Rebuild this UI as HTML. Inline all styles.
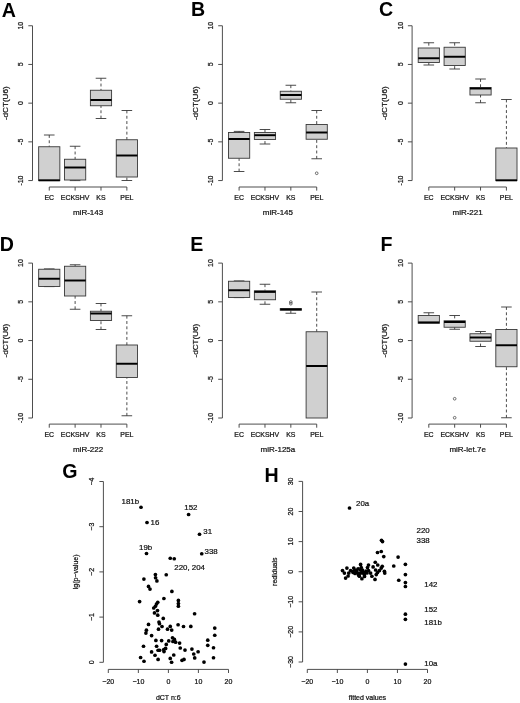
<!DOCTYPE html>
<html lang="en">
<head>
<meta charset="utf-8">
<title>Figure</title>
<style>
html,body{margin:0;padding:0;background:#fff;}
body{width:520px;height:703px;overflow:hidden;}
svg{display:block;font-family:'Liberation Sans', Arial, Helvetica, sans-serif;}
</style>
</head>
<body>
<svg width="520" height="703" viewBox="0 0 520 703">
<rect width="520" height="703" fill="#fff"/>
<line x1="32.50" y1="25.75" x2="32.50" y2="180.55" stroke="#454545" stroke-width="0.95"/>
<line x1="28.30" y1="25.75" x2="32.50" y2="25.75" stroke="#454545" stroke-width="0.95"/>
<text transform="translate(23.20 25.75) rotate(-90)" font-size="6.95" text-anchor="middle" fill="#111" stroke="#111" stroke-width="0.22">10</text>
<line x1="28.30" y1="64.45" x2="32.50" y2="64.45" stroke="#454545" stroke-width="0.95"/>
<text transform="translate(23.20 64.45) rotate(-90)" font-size="6.95" text-anchor="middle" fill="#111" stroke="#111" stroke-width="0.22">5</text>
<line x1="28.30" y1="103.15" x2="32.50" y2="103.15" stroke="#454545" stroke-width="0.95"/>
<text transform="translate(23.20 103.15) rotate(-90)" font-size="6.95" text-anchor="middle" fill="#111" stroke="#111" stroke-width="0.22">0</text>
<line x1="28.30" y1="141.85" x2="32.50" y2="141.85" stroke="#454545" stroke-width="0.95"/>
<text transform="translate(23.20 141.85) rotate(-90)" font-size="6.95" text-anchor="middle" fill="#111" stroke="#111" stroke-width="0.22">-5</text>
<line x1="28.30" y1="180.55" x2="32.50" y2="180.55" stroke="#454545" stroke-width="0.95"/>
<text transform="translate(23.20 180.55) rotate(-90)" font-size="6.95" text-anchor="middle" fill="#111" stroke="#111" stroke-width="0.22">-10</text>
<text transform="translate(7.80 103.25) rotate(-90)" font-size="8.1" text-anchor="middle" fill="#111" stroke="#111" stroke-width="0.22">-dCT(U6)</text>
<line x1="49.25" y1="187.00" x2="126.86" y2="187.00" stroke="#454545" stroke-width="0.95"/>
<line x1="49.25" y1="187.00" x2="49.25" y2="190.60" stroke="#454545" stroke-width="0.95"/>
<text x="49.25" y="200.30" font-size="6.95" text-anchor="middle" fill="#111" stroke="#111" stroke-width="0.22">EC</text>
<line x1="75.12" y1="187.00" x2="75.12" y2="190.60" stroke="#454545" stroke-width="0.95"/>
<text x="75.12" y="200.30" font-size="6.95" text-anchor="middle" fill="#111" stroke="#111" stroke-width="0.22">ECKSHV</text>
<line x1="100.99" y1="187.00" x2="100.99" y2="190.60" stroke="#454545" stroke-width="0.95"/>
<text x="100.99" y="200.30" font-size="6.95" text-anchor="middle" fill="#111" stroke="#111" stroke-width="0.22">KS</text>
<line x1="126.86" y1="187.00" x2="126.86" y2="190.60" stroke="#454545" stroke-width="0.95"/>
<text x="126.86" y="200.30" font-size="6.95" text-anchor="middle" fill="#111" stroke="#111" stroke-width="0.22">PEL</text>
<text x="88.06" y="215.10" font-size="8.0" text-anchor="middle" fill="#111" stroke="#111" stroke-width="0.22">miR-143</text>
<line x1="49.25" y1="135.00" x2="49.25" y2="146.75" stroke="#383838" stroke-width="0.9" stroke-dasharray="2.9 2.4"/>
<line x1="43.95" y1="135.00" x2="54.55" y2="135.00" stroke="#383838" stroke-width="0.9"/>
<rect x="38.65" y="146.75" width="21.20" height="33.85" fill="#d0d0d0" stroke="#383838" stroke-width="0.9"/>
<line x1="38.65" y1="180.30" x2="59.85" y2="180.30" stroke="#000" stroke-width="1.95"/>
<line x1="75.12" y1="146.25" x2="75.12" y2="159.25" stroke="#383838" stroke-width="0.9" stroke-dasharray="2.9 2.4"/>
<line x1="69.82" y1="146.25" x2="80.42" y2="146.25" stroke="#383838" stroke-width="0.9"/>
<line x1="75.12" y1="180.60" x2="75.12" y2="180.00" stroke="#383838" stroke-width="0.9" stroke-dasharray="2.9 2.4"/>
<line x1="69.82" y1="180.60" x2="80.42" y2="180.60" stroke="#383838" stroke-width="0.9"/>
<rect x="64.52" y="159.25" width="21.20" height="20.75" fill="#d0d0d0" stroke="#383838" stroke-width="0.9"/>
<line x1="64.52" y1="167.50" x2="85.72" y2="167.50" stroke="#000" stroke-width="1.95"/>
<line x1="100.99" y1="78.25" x2="100.99" y2="90.25" stroke="#383838" stroke-width="0.9" stroke-dasharray="2.9 2.4"/>
<line x1="95.69" y1="78.25" x2="106.29" y2="78.25" stroke="#383838" stroke-width="0.9"/>
<line x1="100.99" y1="118.50" x2="100.99" y2="105.75" stroke="#383838" stroke-width="0.9" stroke-dasharray="2.9 2.4"/>
<line x1="95.69" y1="118.50" x2="106.29" y2="118.50" stroke="#383838" stroke-width="0.9"/>
<rect x="90.39" y="90.25" width="21.20" height="15.50" fill="#d0d0d0" stroke="#383838" stroke-width="0.9"/>
<line x1="90.39" y1="100.00" x2="111.59" y2="100.00" stroke="#000" stroke-width="1.95"/>
<line x1="126.86" y1="110.50" x2="126.86" y2="139.75" stroke="#383838" stroke-width="0.9" stroke-dasharray="2.9 2.4"/>
<line x1="121.56" y1="110.50" x2="132.16" y2="110.50" stroke="#383838" stroke-width="0.9"/>
<line x1="126.86" y1="180.50" x2="126.86" y2="177.00" stroke="#383838" stroke-width="0.9" stroke-dasharray="2.9 2.4"/>
<line x1="121.56" y1="180.50" x2="132.16" y2="180.50" stroke="#383838" stroke-width="0.9"/>
<rect x="116.26" y="139.75" width="21.20" height="37.25" fill="#d0d0d0" stroke="#383838" stroke-width="0.9"/>
<line x1="116.26" y1="155.50" x2="137.46" y2="155.50" stroke="#000" stroke-width="1.95"/>
<line x1="222.40" y1="25.75" x2="222.40" y2="180.55" stroke="#454545" stroke-width="0.95"/>
<line x1="218.20" y1="25.75" x2="222.40" y2="25.75" stroke="#454545" stroke-width="0.95"/>
<text transform="translate(213.10 25.75) rotate(-90)" font-size="6.95" text-anchor="middle" fill="#111" stroke="#111" stroke-width="0.22">10</text>
<line x1="218.20" y1="64.45" x2="222.40" y2="64.45" stroke="#454545" stroke-width="0.95"/>
<text transform="translate(213.10 64.45) rotate(-90)" font-size="6.95" text-anchor="middle" fill="#111" stroke="#111" stroke-width="0.22">5</text>
<line x1="218.20" y1="103.15" x2="222.40" y2="103.15" stroke="#454545" stroke-width="0.95"/>
<text transform="translate(213.10 103.15) rotate(-90)" font-size="6.95" text-anchor="middle" fill="#111" stroke="#111" stroke-width="0.22">0</text>
<line x1="218.20" y1="141.85" x2="222.40" y2="141.85" stroke="#454545" stroke-width="0.95"/>
<text transform="translate(213.10 141.85) rotate(-90)" font-size="6.95" text-anchor="middle" fill="#111" stroke="#111" stroke-width="0.22">-5</text>
<line x1="218.20" y1="180.55" x2="222.40" y2="180.55" stroke="#454545" stroke-width="0.95"/>
<text transform="translate(213.10 180.55) rotate(-90)" font-size="6.95" text-anchor="middle" fill="#111" stroke="#111" stroke-width="0.22">-10</text>
<text transform="translate(197.70 103.25) rotate(-90)" font-size="8.1" text-anchor="middle" fill="#111" stroke="#111" stroke-width="0.22">-dCT(U6)</text>
<line x1="239.10" y1="187.00" x2="316.71" y2="187.00" stroke="#454545" stroke-width="0.95"/>
<line x1="239.10" y1="187.00" x2="239.10" y2="190.60" stroke="#454545" stroke-width="0.95"/>
<text x="239.10" y="200.30" font-size="6.95" text-anchor="middle" fill="#111" stroke="#111" stroke-width="0.22">EC</text>
<line x1="264.97" y1="187.00" x2="264.97" y2="190.60" stroke="#454545" stroke-width="0.95"/>
<text x="264.97" y="200.30" font-size="6.95" text-anchor="middle" fill="#111" stroke="#111" stroke-width="0.22">ECKSHV</text>
<line x1="290.84" y1="187.00" x2="290.84" y2="190.60" stroke="#454545" stroke-width="0.95"/>
<text x="290.84" y="200.30" font-size="6.95" text-anchor="middle" fill="#111" stroke="#111" stroke-width="0.22">KS</text>
<line x1="316.71" y1="187.00" x2="316.71" y2="190.60" stroke="#454545" stroke-width="0.95"/>
<text x="316.71" y="200.30" font-size="6.95" text-anchor="middle" fill="#111" stroke="#111" stroke-width="0.22">PEL</text>
<text x="277.90" y="215.10" font-size="8.0" text-anchor="middle" fill="#111" stroke="#111" stroke-width="0.22">miR-145</text>
<line x1="239.10" y1="131.40" x2="239.10" y2="132.50" stroke="#383838" stroke-width="0.9" stroke-dasharray="2.9 2.4"/>
<line x1="233.80" y1="131.40" x2="244.40" y2="131.40" stroke="#383838" stroke-width="0.9"/>
<line x1="239.10" y1="171.50" x2="239.10" y2="158.25" stroke="#383838" stroke-width="0.9" stroke-dasharray="2.9 2.4"/>
<line x1="233.80" y1="171.50" x2="244.40" y2="171.50" stroke="#383838" stroke-width="0.9"/>
<rect x="228.50" y="132.50" width="21.20" height="25.75" fill="#d0d0d0" stroke="#383838" stroke-width="0.9"/>
<line x1="228.50" y1="139.00" x2="249.70" y2="139.00" stroke="#000" stroke-width="1.95"/>
<line x1="264.97" y1="129.50" x2="264.97" y2="132.50" stroke="#383838" stroke-width="0.9" stroke-dasharray="2.9 2.4"/>
<line x1="259.67" y1="129.50" x2="270.27" y2="129.50" stroke="#383838" stroke-width="0.9"/>
<line x1="264.97" y1="144.00" x2="264.97" y2="139.50" stroke="#383838" stroke-width="0.9" stroke-dasharray="2.9 2.4"/>
<line x1="259.67" y1="144.00" x2="270.27" y2="144.00" stroke="#383838" stroke-width="0.9"/>
<rect x="254.37" y="132.50" width="21.20" height="7.00" fill="#d0d0d0" stroke="#383838" stroke-width="0.9"/>
<line x1="254.37" y1="135.20" x2="275.57" y2="135.20" stroke="#000" stroke-width="1.95"/>
<line x1="290.84" y1="85.25" x2="290.84" y2="91.25" stroke="#383838" stroke-width="0.9" stroke-dasharray="2.9 2.4"/>
<line x1="285.54" y1="85.25" x2="296.14" y2="85.25" stroke="#383838" stroke-width="0.9"/>
<line x1="290.84" y1="102.75" x2="290.84" y2="99.25" stroke="#383838" stroke-width="0.9" stroke-dasharray="2.9 2.4"/>
<line x1="285.54" y1="102.75" x2="296.14" y2="102.75" stroke="#383838" stroke-width="0.9"/>
<rect x="280.24" y="91.25" width="21.20" height="8.00" fill="#d0d0d0" stroke="#383838" stroke-width="0.9"/>
<line x1="280.24" y1="95.00" x2="301.44" y2="95.00" stroke="#000" stroke-width="1.95"/>
<line x1="316.71" y1="110.50" x2="316.71" y2="124.50" stroke="#383838" stroke-width="0.9" stroke-dasharray="2.9 2.4"/>
<line x1="311.41" y1="110.50" x2="322.01" y2="110.50" stroke="#383838" stroke-width="0.9"/>
<line x1="316.71" y1="158.75" x2="316.71" y2="139.25" stroke="#383838" stroke-width="0.9" stroke-dasharray="2.9 2.4"/>
<line x1="311.41" y1="158.75" x2="322.01" y2="158.75" stroke="#383838" stroke-width="0.9"/>
<rect x="306.11" y="124.50" width="21.20" height="14.75" fill="#d0d0d0" stroke="#383838" stroke-width="0.9"/>
<line x1="306.11" y1="132.50" x2="327.31" y2="132.50" stroke="#000" stroke-width="1.95"/>
<circle cx="316.71" cy="173.25" r="1.35" fill="none" stroke="#383838" stroke-width="0.7"/>
<line x1="412.10" y1="25.75" x2="412.10" y2="180.55" stroke="#454545" stroke-width="0.95"/>
<line x1="407.90" y1="25.75" x2="412.10" y2="25.75" stroke="#454545" stroke-width="0.95"/>
<text transform="translate(402.80 25.75) rotate(-90)" font-size="6.95" text-anchor="middle" fill="#111" stroke="#111" stroke-width="0.22">10</text>
<line x1="407.90" y1="64.45" x2="412.10" y2="64.45" stroke="#454545" stroke-width="0.95"/>
<text transform="translate(402.80 64.45) rotate(-90)" font-size="6.95" text-anchor="middle" fill="#111" stroke="#111" stroke-width="0.22">5</text>
<line x1="407.90" y1="103.15" x2="412.10" y2="103.15" stroke="#454545" stroke-width="0.95"/>
<text transform="translate(402.80 103.15) rotate(-90)" font-size="6.95" text-anchor="middle" fill="#111" stroke="#111" stroke-width="0.22">0</text>
<line x1="407.90" y1="141.85" x2="412.10" y2="141.85" stroke="#454545" stroke-width="0.95"/>
<text transform="translate(402.80 141.85) rotate(-90)" font-size="6.95" text-anchor="middle" fill="#111" stroke="#111" stroke-width="0.22">-5</text>
<line x1="407.90" y1="180.55" x2="412.10" y2="180.55" stroke="#454545" stroke-width="0.95"/>
<text transform="translate(402.80 180.55) rotate(-90)" font-size="6.95" text-anchor="middle" fill="#111" stroke="#111" stroke-width="0.22">-10</text>
<text transform="translate(387.40 103.25) rotate(-90)" font-size="8.1" text-anchor="middle" fill="#111" stroke="#111" stroke-width="0.22">-dCT(U6)</text>
<line x1="428.80" y1="187.00" x2="506.41" y2="187.00" stroke="#454545" stroke-width="0.95"/>
<line x1="428.80" y1="187.00" x2="428.80" y2="190.60" stroke="#454545" stroke-width="0.95"/>
<text x="428.80" y="200.30" font-size="6.95" text-anchor="middle" fill="#111" stroke="#111" stroke-width="0.22">EC</text>
<line x1="454.67" y1="187.00" x2="454.67" y2="190.60" stroke="#454545" stroke-width="0.95"/>
<text x="454.67" y="200.30" font-size="6.95" text-anchor="middle" fill="#111" stroke="#111" stroke-width="0.22">ECKSHV</text>
<line x1="480.54" y1="187.00" x2="480.54" y2="190.60" stroke="#454545" stroke-width="0.95"/>
<text x="480.54" y="200.30" font-size="6.95" text-anchor="middle" fill="#111" stroke="#111" stroke-width="0.22">KS</text>
<line x1="506.41" y1="187.00" x2="506.41" y2="190.60" stroke="#454545" stroke-width="0.95"/>
<text x="506.41" y="200.30" font-size="6.95" text-anchor="middle" fill="#111" stroke="#111" stroke-width="0.22">PEL</text>
<text x="467.61" y="215.10" font-size="8.0" text-anchor="middle" fill="#111" stroke="#111" stroke-width="0.22">miR-221</text>
<line x1="428.80" y1="42.75" x2="428.80" y2="48.00" stroke="#383838" stroke-width="0.9" stroke-dasharray="2.9 2.4"/>
<line x1="423.50" y1="42.75" x2="434.10" y2="42.75" stroke="#383838" stroke-width="0.9"/>
<line x1="428.80" y1="65.00" x2="428.80" y2="62.50" stroke="#383838" stroke-width="0.9" stroke-dasharray="2.9 2.4"/>
<line x1="423.50" y1="65.00" x2="434.10" y2="65.00" stroke="#383838" stroke-width="0.9"/>
<rect x="418.20" y="48.00" width="21.20" height="14.50" fill="#d0d0d0" stroke="#383838" stroke-width="0.9"/>
<line x1="418.20" y1="58.25" x2="439.40" y2="58.25" stroke="#000" stroke-width="1.95"/>
<line x1="454.67" y1="42.75" x2="454.67" y2="47.25" stroke="#383838" stroke-width="0.9" stroke-dasharray="2.9 2.4"/>
<line x1="449.37" y1="42.75" x2="459.97" y2="42.75" stroke="#383838" stroke-width="0.9"/>
<line x1="454.67" y1="69.00" x2="454.67" y2="65.50" stroke="#383838" stroke-width="0.9" stroke-dasharray="2.9 2.4"/>
<line x1="449.37" y1="69.00" x2="459.97" y2="69.00" stroke="#383838" stroke-width="0.9"/>
<rect x="444.07" y="47.25" width="21.20" height="18.25" fill="#d0d0d0" stroke="#383838" stroke-width="0.9"/>
<line x1="444.07" y1="56.75" x2="465.27" y2="56.75" stroke="#000" stroke-width="1.95"/>
<line x1="480.54" y1="79.00" x2="480.54" y2="87.50" stroke="#383838" stroke-width="0.9" stroke-dasharray="2.9 2.4"/>
<line x1="475.24" y1="79.00" x2="485.84" y2="79.00" stroke="#383838" stroke-width="0.9"/>
<line x1="480.54" y1="102.75" x2="480.54" y2="95.00" stroke="#383838" stroke-width="0.9" stroke-dasharray="2.9 2.4"/>
<line x1="475.24" y1="102.75" x2="485.84" y2="102.75" stroke="#383838" stroke-width="0.9"/>
<rect x="469.94" y="87.50" width="21.20" height="7.50" fill="#d0d0d0" stroke="#383838" stroke-width="0.9"/>
<line x1="469.94" y1="88.50" x2="491.14" y2="88.50" stroke="#000" stroke-width="1.95"/>
<line x1="506.41" y1="99.50" x2="506.41" y2="148.00" stroke="#383838" stroke-width="0.9" stroke-dasharray="2.9 2.4"/>
<line x1="501.11" y1="99.50" x2="511.71" y2="99.50" stroke="#383838" stroke-width="0.9"/>
<rect x="495.81" y="148.00" width="21.20" height="32.60" fill="#d0d0d0" stroke="#383838" stroke-width="0.9"/>
<line x1="495.81" y1="180.30" x2="517.01" y2="180.30" stroke="#000" stroke-width="1.95"/>
<line x1="32.50" y1="263.10" x2="32.50" y2="418.00" stroke="#454545" stroke-width="0.95"/>
<line x1="28.30" y1="263.10" x2="32.50" y2="263.10" stroke="#454545" stroke-width="0.95"/>
<text transform="translate(23.20 263.10) rotate(-90)" font-size="6.95" text-anchor="middle" fill="#111" stroke="#111" stroke-width="0.22">10</text>
<line x1="28.30" y1="301.83" x2="32.50" y2="301.83" stroke="#454545" stroke-width="0.95"/>
<text transform="translate(23.20 301.83) rotate(-90)" font-size="6.95" text-anchor="middle" fill="#111" stroke="#111" stroke-width="0.22">5</text>
<line x1="28.30" y1="340.55" x2="32.50" y2="340.55" stroke="#454545" stroke-width="0.95"/>
<text transform="translate(23.20 340.55) rotate(-90)" font-size="6.95" text-anchor="middle" fill="#111" stroke="#111" stroke-width="0.22">0</text>
<line x1="28.30" y1="379.27" x2="32.50" y2="379.27" stroke="#454545" stroke-width="0.95"/>
<text transform="translate(23.20 379.27) rotate(-90)" font-size="6.95" text-anchor="middle" fill="#111" stroke="#111" stroke-width="0.22">-5</text>
<line x1="28.30" y1="418.00" x2="32.50" y2="418.00" stroke="#454545" stroke-width="0.95"/>
<text transform="translate(23.20 418.00) rotate(-90)" font-size="6.95" text-anchor="middle" fill="#111" stroke="#111" stroke-width="0.22">-10</text>
<text transform="translate(7.80 340.65) rotate(-90)" font-size="8.1" text-anchor="middle" fill="#111" stroke="#111" stroke-width="0.22">-dCT(U6)</text>
<line x1="49.25" y1="424.10" x2="126.86" y2="424.10" stroke="#454545" stroke-width="0.95"/>
<line x1="49.25" y1="424.10" x2="49.25" y2="427.70" stroke="#454545" stroke-width="0.95"/>
<text x="49.25" y="437.40" font-size="6.95" text-anchor="middle" fill="#111" stroke="#111" stroke-width="0.22">EC</text>
<line x1="75.12" y1="424.10" x2="75.12" y2="427.70" stroke="#454545" stroke-width="0.95"/>
<text x="75.12" y="437.40" font-size="6.95" text-anchor="middle" fill="#111" stroke="#111" stroke-width="0.22">ECKSHV</text>
<line x1="100.99" y1="424.10" x2="100.99" y2="427.70" stroke="#454545" stroke-width="0.95"/>
<text x="100.99" y="437.40" font-size="6.95" text-anchor="middle" fill="#111" stroke="#111" stroke-width="0.22">KS</text>
<line x1="126.86" y1="424.10" x2="126.86" y2="427.70" stroke="#454545" stroke-width="0.95"/>
<text x="126.86" y="437.40" font-size="6.95" text-anchor="middle" fill="#111" stroke="#111" stroke-width="0.22">PEL</text>
<text x="88.06" y="452.20" font-size="8.0" text-anchor="middle" fill="#111" stroke="#111" stroke-width="0.22">miR-222</text>
<line x1="49.25" y1="268.90" x2="49.25" y2="269.25" stroke="#383838" stroke-width="0.9" stroke-dasharray="2.9 2.4"/>
<line x1="43.95" y1="268.90" x2="54.55" y2="268.90" stroke="#383838" stroke-width="0.9"/>
<line x1="43.95" y1="286.60" x2="54.55" y2="286.60" stroke="#383838" stroke-width="0.9"/>
<rect x="38.65" y="269.25" width="21.20" height="17.25" fill="#d0d0d0" stroke="#383838" stroke-width="0.9"/>
<line x1="38.65" y1="278.75" x2="59.85" y2="278.75" stroke="#000" stroke-width="1.95"/>
<line x1="75.12" y1="264.75" x2="75.12" y2="266.25" stroke="#383838" stroke-width="0.9" stroke-dasharray="2.9 2.4"/>
<line x1="69.82" y1="264.75" x2="80.42" y2="264.75" stroke="#383838" stroke-width="0.9"/>
<line x1="75.12" y1="309.25" x2="75.12" y2="296.00" stroke="#383838" stroke-width="0.9" stroke-dasharray="2.9 2.4"/>
<line x1="69.82" y1="309.25" x2="80.42" y2="309.25" stroke="#383838" stroke-width="0.9"/>
<rect x="64.52" y="266.25" width="21.20" height="29.75" fill="#d0d0d0" stroke="#383838" stroke-width="0.9"/>
<line x1="64.52" y1="280.50" x2="85.72" y2="280.50" stroke="#000" stroke-width="1.95"/>
<line x1="100.99" y1="303.50" x2="100.99" y2="311.25" stroke="#383838" stroke-width="0.9" stroke-dasharray="2.9 2.4"/>
<line x1="95.69" y1="303.50" x2="106.29" y2="303.50" stroke="#383838" stroke-width="0.9"/>
<line x1="100.99" y1="329.50" x2="100.99" y2="320.50" stroke="#383838" stroke-width="0.9" stroke-dasharray="2.9 2.4"/>
<line x1="95.69" y1="329.50" x2="106.29" y2="329.50" stroke="#383838" stroke-width="0.9"/>
<rect x="90.39" y="311.25" width="21.20" height="9.25" fill="#d0d0d0" stroke="#383838" stroke-width="0.9"/>
<line x1="90.39" y1="313.50" x2="111.59" y2="313.50" stroke="#000" stroke-width="1.95"/>
<line x1="126.86" y1="315.75" x2="126.86" y2="345.00" stroke="#383838" stroke-width="0.9" stroke-dasharray="2.9 2.4"/>
<line x1="121.56" y1="315.75" x2="132.16" y2="315.75" stroke="#383838" stroke-width="0.9"/>
<line x1="126.86" y1="415.75" x2="126.86" y2="377.50" stroke="#383838" stroke-width="0.9" stroke-dasharray="2.9 2.4"/>
<line x1="121.56" y1="415.75" x2="132.16" y2="415.75" stroke="#383838" stroke-width="0.9"/>
<rect x="116.26" y="345.00" width="21.20" height="32.50" fill="#d0d0d0" stroke="#383838" stroke-width="0.9"/>
<line x1="116.26" y1="363.75" x2="137.46" y2="363.75" stroke="#000" stroke-width="1.95"/>
<line x1="222.40" y1="263.10" x2="222.40" y2="418.00" stroke="#454545" stroke-width="0.95"/>
<line x1="218.20" y1="263.10" x2="222.40" y2="263.10" stroke="#454545" stroke-width="0.95"/>
<text transform="translate(213.10 263.10) rotate(-90)" font-size="6.95" text-anchor="middle" fill="#111" stroke="#111" stroke-width="0.22">10</text>
<line x1="218.20" y1="301.83" x2="222.40" y2="301.83" stroke="#454545" stroke-width="0.95"/>
<text transform="translate(213.10 301.83) rotate(-90)" font-size="6.95" text-anchor="middle" fill="#111" stroke="#111" stroke-width="0.22">5</text>
<line x1="218.20" y1="340.55" x2="222.40" y2="340.55" stroke="#454545" stroke-width="0.95"/>
<text transform="translate(213.10 340.55) rotate(-90)" font-size="6.95" text-anchor="middle" fill="#111" stroke="#111" stroke-width="0.22">0</text>
<line x1="218.20" y1="379.27" x2="222.40" y2="379.27" stroke="#454545" stroke-width="0.95"/>
<text transform="translate(213.10 379.27) rotate(-90)" font-size="6.95" text-anchor="middle" fill="#111" stroke="#111" stroke-width="0.22">-5</text>
<line x1="218.20" y1="418.00" x2="222.40" y2="418.00" stroke="#454545" stroke-width="0.95"/>
<text transform="translate(213.10 418.00) rotate(-90)" font-size="6.95" text-anchor="middle" fill="#111" stroke="#111" stroke-width="0.22">-10</text>
<text transform="translate(197.70 340.65) rotate(-90)" font-size="8.1" text-anchor="middle" fill="#111" stroke="#111" stroke-width="0.22">-dCT(U6)</text>
<line x1="239.10" y1="424.10" x2="316.71" y2="424.10" stroke="#454545" stroke-width="0.95"/>
<line x1="239.10" y1="424.10" x2="239.10" y2="427.70" stroke="#454545" stroke-width="0.95"/>
<text x="239.10" y="437.40" font-size="6.95" text-anchor="middle" fill="#111" stroke="#111" stroke-width="0.22">EC</text>
<line x1="264.97" y1="424.10" x2="264.97" y2="427.70" stroke="#454545" stroke-width="0.95"/>
<text x="264.97" y="437.40" font-size="6.95" text-anchor="middle" fill="#111" stroke="#111" stroke-width="0.22">ECKSHV</text>
<line x1="290.84" y1="424.10" x2="290.84" y2="427.70" stroke="#454545" stroke-width="0.95"/>
<text x="290.84" y="437.40" font-size="6.95" text-anchor="middle" fill="#111" stroke="#111" stroke-width="0.22">KS</text>
<line x1="316.71" y1="424.10" x2="316.71" y2="427.70" stroke="#454545" stroke-width="0.95"/>
<text x="316.71" y="437.40" font-size="6.95" text-anchor="middle" fill="#111" stroke="#111" stroke-width="0.22">PEL</text>
<text x="277.90" y="452.20" font-size="8.0" text-anchor="middle" fill="#111" stroke="#111" stroke-width="0.22">miR-125a</text>
<line x1="239.10" y1="280.90" x2="239.10" y2="281.25" stroke="#383838" stroke-width="0.9" stroke-dasharray="2.9 2.4"/>
<line x1="233.80" y1="280.90" x2="244.40" y2="280.90" stroke="#383838" stroke-width="0.9"/>
<line x1="233.80" y1="297.60" x2="244.40" y2="297.60" stroke="#383838" stroke-width="0.9"/>
<rect x="228.50" y="281.25" width="21.20" height="16.25" fill="#d0d0d0" stroke="#383838" stroke-width="0.9"/>
<line x1="228.50" y1="290.25" x2="249.70" y2="290.25" stroke="#000" stroke-width="1.95"/>
<line x1="264.97" y1="284.25" x2="264.97" y2="290.75" stroke="#383838" stroke-width="0.9" stroke-dasharray="2.9 2.4"/>
<line x1="259.67" y1="284.25" x2="270.27" y2="284.25" stroke="#383838" stroke-width="0.9"/>
<line x1="264.97" y1="304.25" x2="264.97" y2="299.75" stroke="#383838" stroke-width="0.9" stroke-dasharray="2.9 2.4"/>
<line x1="259.67" y1="304.25" x2="270.27" y2="304.25" stroke="#383838" stroke-width="0.9"/>
<rect x="254.37" y="290.75" width="21.20" height="9.00" fill="#d0d0d0" stroke="#383838" stroke-width="0.9"/>
<line x1="254.37" y1="291.90" x2="275.57" y2="291.90" stroke="#000" stroke-width="1.95"/>
<line x1="290.84" y1="313.25" x2="290.84" y2="310.20" stroke="#383838" stroke-width="0.9" stroke-dasharray="2.9 2.4"/>
<line x1="285.54" y1="313.25" x2="296.14" y2="313.25" stroke="#383838" stroke-width="0.9"/>
<rect x="280.24" y="308.60" width="21.20" height="1.60" fill="#d0d0d0" stroke="#383838" stroke-width="0.9"/>
<line x1="280.24" y1="309.40" x2="301.44" y2="309.40" stroke="#000" stroke-width="1.95"/>
<line x1="316.71" y1="292.00" x2="316.71" y2="331.75" stroke="#383838" stroke-width="0.9" stroke-dasharray="2.9 2.4"/>
<line x1="311.41" y1="292.00" x2="322.01" y2="292.00" stroke="#383838" stroke-width="0.9"/>
<rect x="306.11" y="331.75" width="21.20" height="86.25" fill="#d0d0d0" stroke="#383838" stroke-width="0.9"/>
<line x1="306.11" y1="366.00" x2="327.31" y2="366.00" stroke="#000" stroke-width="1.95"/>
<circle cx="290.84" cy="302.00" r="1.35" fill="none" stroke="#383838" stroke-width="0.7"/>
<circle cx="290.84" cy="303.70" r="1.35" fill="none" stroke="#383838" stroke-width="0.7"/>
<line x1="412.10" y1="263.10" x2="412.10" y2="418.00" stroke="#454545" stroke-width="0.95"/>
<line x1="407.90" y1="263.10" x2="412.10" y2="263.10" stroke="#454545" stroke-width="0.95"/>
<text transform="translate(402.80 263.10) rotate(-90)" font-size="6.95" text-anchor="middle" fill="#111" stroke="#111" stroke-width="0.22">10</text>
<line x1="407.90" y1="301.83" x2="412.10" y2="301.83" stroke="#454545" stroke-width="0.95"/>
<text transform="translate(402.80 301.83) rotate(-90)" font-size="6.95" text-anchor="middle" fill="#111" stroke="#111" stroke-width="0.22">5</text>
<line x1="407.90" y1="340.55" x2="412.10" y2="340.55" stroke="#454545" stroke-width="0.95"/>
<text transform="translate(402.80 340.55) rotate(-90)" font-size="6.95" text-anchor="middle" fill="#111" stroke="#111" stroke-width="0.22">0</text>
<line x1="407.90" y1="379.27" x2="412.10" y2="379.27" stroke="#454545" stroke-width="0.95"/>
<text transform="translate(402.80 379.27) rotate(-90)" font-size="6.95" text-anchor="middle" fill="#111" stroke="#111" stroke-width="0.22">-5</text>
<line x1="407.90" y1="418.00" x2="412.10" y2="418.00" stroke="#454545" stroke-width="0.95"/>
<text transform="translate(402.80 418.00) rotate(-90)" font-size="6.95" text-anchor="middle" fill="#111" stroke="#111" stroke-width="0.22">-10</text>
<text transform="translate(387.40 340.65) rotate(-90)" font-size="8.1" text-anchor="middle" fill="#111" stroke="#111" stroke-width="0.22">-dCT(U6)</text>
<line x1="428.80" y1="424.10" x2="506.41" y2="424.10" stroke="#454545" stroke-width="0.95"/>
<line x1="428.80" y1="424.10" x2="428.80" y2="427.70" stroke="#454545" stroke-width="0.95"/>
<text x="428.80" y="437.40" font-size="6.95" text-anchor="middle" fill="#111" stroke="#111" stroke-width="0.22">EC</text>
<line x1="454.67" y1="424.10" x2="454.67" y2="427.70" stroke="#454545" stroke-width="0.95"/>
<text x="454.67" y="437.40" font-size="6.95" text-anchor="middle" fill="#111" stroke="#111" stroke-width="0.22">ECKSHV</text>
<line x1="480.54" y1="424.10" x2="480.54" y2="427.70" stroke="#454545" stroke-width="0.95"/>
<text x="480.54" y="437.40" font-size="6.95" text-anchor="middle" fill="#111" stroke="#111" stroke-width="0.22">KS</text>
<line x1="506.41" y1="424.10" x2="506.41" y2="427.70" stroke="#454545" stroke-width="0.95"/>
<text x="506.41" y="437.40" font-size="6.95" text-anchor="middle" fill="#111" stroke="#111" stroke-width="0.22">PEL</text>
<text x="467.61" y="452.20" font-size="8.0" text-anchor="middle" fill="#111" stroke="#111" stroke-width="0.22">miR-let.7e</text>
<line x1="428.80" y1="312.75" x2="428.80" y2="315.50" stroke="#383838" stroke-width="0.9" stroke-dasharray="2.9 2.4"/>
<line x1="423.50" y1="312.75" x2="434.10" y2="312.75" stroke="#383838" stroke-width="0.9"/>
<rect x="418.20" y="315.50" width="21.20" height="7.75" fill="#d0d0d0" stroke="#383838" stroke-width="0.9"/>
<line x1="418.20" y1="322.40" x2="439.40" y2="322.40" stroke="#000" stroke-width="1.95"/>
<line x1="454.67" y1="315.50" x2="454.67" y2="320.75" stroke="#383838" stroke-width="0.9" stroke-dasharray="2.9 2.4"/>
<line x1="449.37" y1="315.50" x2="459.97" y2="315.50" stroke="#383838" stroke-width="0.9"/>
<line x1="454.67" y1="329.25" x2="454.67" y2="327.25" stroke="#383838" stroke-width="0.9" stroke-dasharray="2.9 2.4"/>
<line x1="449.37" y1="329.25" x2="459.97" y2="329.25" stroke="#383838" stroke-width="0.9"/>
<rect x="444.07" y="320.75" width="21.20" height="6.50" fill="#d0d0d0" stroke="#383838" stroke-width="0.9"/>
<line x1="444.07" y1="322.00" x2="465.27" y2="322.00" stroke="#000" stroke-width="1.95"/>
<line x1="480.54" y1="331.50" x2="480.54" y2="333.75" stroke="#383838" stroke-width="0.9" stroke-dasharray="2.9 2.4"/>
<line x1="475.24" y1="331.50" x2="485.84" y2="331.50" stroke="#383838" stroke-width="0.9"/>
<line x1="480.54" y1="346.50" x2="480.54" y2="341.25" stroke="#383838" stroke-width="0.9" stroke-dasharray="2.9 2.4"/>
<line x1="475.24" y1="346.50" x2="485.84" y2="346.50" stroke="#383838" stroke-width="0.9"/>
<rect x="469.94" y="333.75" width="21.20" height="7.50" fill="#d0d0d0" stroke="#383838" stroke-width="0.9"/>
<line x1="469.94" y1="337.50" x2="491.14" y2="337.50" stroke="#000" stroke-width="1.95"/>
<line x1="506.41" y1="307.00" x2="506.41" y2="329.50" stroke="#383838" stroke-width="0.9" stroke-dasharray="2.9 2.4"/>
<line x1="501.11" y1="307.00" x2="511.71" y2="307.00" stroke="#383838" stroke-width="0.9"/>
<line x1="506.41" y1="417.75" x2="506.41" y2="366.75" stroke="#383838" stroke-width="0.9" stroke-dasharray="2.9 2.4"/>
<line x1="501.11" y1="417.75" x2="511.71" y2="417.75" stroke="#383838" stroke-width="0.9"/>
<rect x="495.81" y="329.50" width="21.20" height="37.25" fill="#d0d0d0" stroke="#383838" stroke-width="0.9"/>
<line x1="495.81" y1="345.25" x2="517.01" y2="345.25" stroke="#000" stroke-width="1.95"/>
<circle cx="454.67" cy="398.75" r="1.35" fill="none" stroke="#383838" stroke-width="0.7"/>
<circle cx="454.67" cy="417.75" r="1.35" fill="none" stroke="#383838" stroke-width="0.7"/>
<line x1="103.40" y1="481.50" x2="103.40" y2="662.30" stroke="#454545" stroke-width="0.95"/>
<line x1="99.40" y1="481.50" x2="103.40" y2="481.50" stroke="#454545" stroke-width="0.95"/>
<text transform="translate(93.70 481.50) rotate(-90)" font-size="7.0" text-anchor="middle" fill="#111" stroke="#111" stroke-width="0.22">−4</text>
<line x1="99.40" y1="526.70" x2="103.40" y2="526.70" stroke="#454545" stroke-width="0.95"/>
<text transform="translate(93.70 526.70) rotate(-90)" font-size="7.0" text-anchor="middle" fill="#111" stroke="#111" stroke-width="0.22">−3</text>
<line x1="99.40" y1="571.90" x2="103.40" y2="571.90" stroke="#454545" stroke-width="0.95"/>
<text transform="translate(93.70 571.90) rotate(-90)" font-size="7.0" text-anchor="middle" fill="#111" stroke="#111" stroke-width="0.22">−2</text>
<line x1="99.40" y1="617.10" x2="103.40" y2="617.10" stroke="#454545" stroke-width="0.95"/>
<text transform="translate(93.70 617.10) rotate(-90)" font-size="7.0" text-anchor="middle" fill="#111" stroke="#111" stroke-width="0.22">−1</text>
<line x1="99.40" y1="662.30" x2="103.40" y2="662.30" stroke="#454545" stroke-width="0.95"/>
<text transform="translate(93.70 662.30) rotate(-90)" font-size="7.0" text-anchor="middle" fill="#111" stroke="#111" stroke-width="0.22">0</text>
<text transform="translate(77.50 571.90) rotate(-90)" font-size="7.0" text-anchor="middle" fill="#111" stroke="#111" stroke-width="0.22">lg(p−value)</text>
<line x1="108.30" y1="669.40" x2="228.50" y2="669.40" stroke="#454545" stroke-width="0.95"/>
<line x1="108.30" y1="669.40" x2="108.30" y2="673.00" stroke="#454545" stroke-width="0.95"/>
<text x="108.30" y="684.20" font-size="7.0" text-anchor="middle" fill="#111" stroke="#111" stroke-width="0.22">−20</text>
<line x1="138.35" y1="669.40" x2="138.35" y2="673.00" stroke="#454545" stroke-width="0.95"/>
<text x="138.35" y="684.20" font-size="7.0" text-anchor="middle" fill="#111" stroke="#111" stroke-width="0.22">−10</text>
<line x1="168.40" y1="669.40" x2="168.40" y2="673.00" stroke="#454545" stroke-width="0.95"/>
<text x="168.40" y="684.20" font-size="7.0" text-anchor="middle" fill="#111" stroke="#111" stroke-width="0.22">0</text>
<line x1="198.40" y1="669.40" x2="198.40" y2="673.00" stroke="#454545" stroke-width="0.95"/>
<text x="198.40" y="684.20" font-size="7.0" text-anchor="middle" fill="#111" stroke="#111" stroke-width="0.22">10</text>
<line x1="228.50" y1="669.40" x2="228.50" y2="673.00" stroke="#454545" stroke-width="0.95"/>
<text x="228.50" y="684.20" font-size="7.0" text-anchor="middle" fill="#111" stroke="#111" stroke-width="0.22">20</text>
<text x="168.30" y="700.30" font-size="7.0" text-anchor="middle" fill="#111" stroke="#111" stroke-width="0.22">dCT n:6</text>
<circle cx="141.00" cy="507.25" r="1.85" fill="#000"/>
<circle cx="147.00" cy="522.50" r="1.85" fill="#000"/>
<circle cx="146.50" cy="553.50" r="1.85" fill="#000"/>
<circle cx="170.25" cy="558.25" r="1.85" fill="#000"/>
<circle cx="174.25" cy="558.75" r="1.85" fill="#000"/>
<circle cx="188.60" cy="514.50" r="1.85" fill="#000"/>
<circle cx="199.50" cy="534.25" r="1.85" fill="#000"/>
<circle cx="201.75" cy="553.75" r="1.85" fill="#000"/>
<circle cx="143.90" cy="579.10" r="1.85" fill="#000"/>
<circle cx="155.40" cy="574.60" r="1.85" fill="#000"/>
<circle cx="155.60" cy="577.75" r="1.85" fill="#000"/>
<circle cx="156.90" cy="580.90" r="1.85" fill="#000"/>
<circle cx="166.25" cy="574.75" r="1.85" fill="#000"/>
<circle cx="148.50" cy="586.40" r="1.85" fill="#000"/>
<circle cx="150.00" cy="589.10" r="1.85" fill="#000"/>
<circle cx="171.90" cy="591.40" r="1.85" fill="#000"/>
<circle cx="163.90" cy="598.50" r="1.85" fill="#000"/>
<circle cx="139.60" cy="601.60" r="1.85" fill="#000"/>
<circle cx="157.75" cy="602.25" r="1.85" fill="#000"/>
<circle cx="156.50" cy="604.00" r="1.85" fill="#000"/>
<circle cx="155.40" cy="606.25" r="1.85" fill="#000"/>
<circle cx="153.75" cy="608.00" r="1.85" fill="#000"/>
<circle cx="178.40" cy="600.40" r="1.85" fill="#000"/>
<circle cx="178.40" cy="603.50" r="1.85" fill="#000"/>
<circle cx="178.40" cy="606.25" r="1.85" fill="#000"/>
<circle cx="157.50" cy="610.60" r="1.85" fill="#000"/>
<circle cx="154.50" cy="612.90" r="1.85" fill="#000"/>
<circle cx="157.75" cy="615.20" r="1.85" fill="#000"/>
<circle cx="194.60" cy="613.75" r="1.85" fill="#000"/>
<circle cx="163.25" cy="618.40" r="1.85" fill="#000"/>
<circle cx="159.00" cy="622.00" r="1.85" fill="#000"/>
<circle cx="159.50" cy="623.75" r="1.85" fill="#000"/>
<circle cx="148.50" cy="624.40" r="1.85" fill="#000"/>
<circle cx="162.00" cy="626.50" r="1.85" fill="#000"/>
<circle cx="170.25" cy="626.40" r="1.85" fill="#000"/>
<circle cx="178.10" cy="624.75" r="1.85" fill="#000"/>
<circle cx="183.50" cy="626.50" r="1.85" fill="#000"/>
<circle cx="190.80" cy="626.40" r="1.85" fill="#000"/>
<circle cx="146.40" cy="630.20" r="1.85" fill="#000"/>
<circle cx="158.50" cy="629.20" r="1.85" fill="#000"/>
<circle cx="167.50" cy="629.20" r="1.85" fill="#000"/>
<circle cx="171.70" cy="630.10" r="1.85" fill="#000"/>
<circle cx="145.90" cy="633.10" r="1.85" fill="#000"/>
<circle cx="151.60" cy="635.60" r="1.85" fill="#000"/>
<circle cx="155.90" cy="640.40" r="1.85" fill="#000"/>
<circle cx="161.60" cy="640.60" r="1.85" fill="#000"/>
<circle cx="168.75" cy="640.90" r="1.85" fill="#000"/>
<circle cx="172.50" cy="637.75" r="1.85" fill="#000"/>
<circle cx="174.40" cy="639.40" r="1.85" fill="#000"/>
<circle cx="172.90" cy="641.50" r="1.85" fill="#000"/>
<circle cx="175.60" cy="642.20" r="1.85" fill="#000"/>
<circle cx="179.60" cy="643.10" r="1.85" fill="#000"/>
<circle cx="166.25" cy="644.40" r="1.85" fill="#000"/>
<circle cx="143.50" cy="646.25" r="1.85" fill="#000"/>
<circle cx="156.60" cy="646.25" r="1.85" fill="#000"/>
<circle cx="180.25" cy="648.00" r="1.85" fill="#000"/>
<circle cx="165.60" cy="648.40" r="1.85" fill="#000"/>
<circle cx="163.75" cy="649.60" r="1.85" fill="#000"/>
<circle cx="158.10" cy="650.25" r="1.85" fill="#000"/>
<circle cx="159.60" cy="650.25" r="1.85" fill="#000"/>
<circle cx="164.00" cy="651.60" r="1.85" fill="#000"/>
<circle cx="151.60" cy="651.90" r="1.85" fill="#000"/>
<circle cx="185.00" cy="650.10" r="1.85" fill="#000"/>
<circle cx="191.90" cy="649.10" r="1.85" fill="#000"/>
<circle cx="155.00" cy="655.25" r="1.85" fill="#000"/>
<circle cx="173.75" cy="655.00" r="1.85" fill="#000"/>
<circle cx="193.75" cy="654.00" r="1.85" fill="#000"/>
<circle cx="140.60" cy="657.50" r="1.85" fill="#000"/>
<circle cx="158.10" cy="659.40" r="1.85" fill="#000"/>
<circle cx="170.25" cy="658.40" r="1.85" fill="#000"/>
<circle cx="194.70" cy="657.90" r="1.85" fill="#000"/>
<circle cx="144.00" cy="661.25" r="1.85" fill="#000"/>
<circle cx="171.60" cy="662.25" r="1.85" fill="#000"/>
<circle cx="182.00" cy="660.30" r="1.85" fill="#000"/>
<circle cx="184.00" cy="659.40" r="1.85" fill="#000"/>
<circle cx="214.75" cy="628.10" r="1.85" fill="#000"/>
<circle cx="214.75" cy="635.25" r="1.85" fill="#000"/>
<circle cx="207.75" cy="640.20" r="1.85" fill="#000"/>
<circle cx="207.75" cy="645.30" r="1.85" fill="#000"/>
<circle cx="213.50" cy="647.75" r="1.85" fill="#000"/>
<circle cx="198.10" cy="651.75" r="1.85" fill="#000"/>
<circle cx="213.50" cy="657.75" r="1.85" fill="#000"/>
<circle cx="204.00" cy="662.10" r="1.85" fill="#000"/>
<text x="121.50" y="503.70" font-size="7.9" text-anchor="start" fill="#111" stroke="#111" stroke-width="0.22">181b</text>
<text x="150.50" y="524.90" font-size="7.9" text-anchor="start" fill="#111" stroke="#111" stroke-width="0.22">16</text>
<text x="139.00" y="549.60" font-size="7.9" text-anchor="start" fill="#111" stroke="#111" stroke-width="0.22">19b</text>
<text x="174.30" y="569.50" font-size="7.9" text-anchor="start" fill="#111" stroke="#111" stroke-width="0.22">220, 204</text>
<text x="184.30" y="509.60" font-size="7.9" text-anchor="start" fill="#111" stroke="#111" stroke-width="0.22">152</text>
<text x="203.30" y="533.80" font-size="7.9" text-anchor="start" fill="#111" stroke="#111" stroke-width="0.22">31</text>
<text x="204.50" y="554.30" font-size="7.9" text-anchor="start" fill="#111" stroke="#111" stroke-width="0.22">338</text>
<line x1="302.60" y1="481.40" x2="302.60" y2="662.00" stroke="#454545" stroke-width="0.95"/>
<line x1="298.60" y1="481.40" x2="302.60" y2="481.40" stroke="#454545" stroke-width="0.95"/>
<text transform="translate(292.90 481.40) rotate(-90)" font-size="7.0" text-anchor="middle" fill="#111" stroke="#111" stroke-width="0.22">30</text>
<line x1="298.60" y1="511.50" x2="302.60" y2="511.50" stroke="#454545" stroke-width="0.95"/>
<text transform="translate(292.90 511.50) rotate(-90)" font-size="7.0" text-anchor="middle" fill="#111" stroke="#111" stroke-width="0.22">20</text>
<line x1="298.60" y1="541.60" x2="302.60" y2="541.60" stroke="#454545" stroke-width="0.95"/>
<text transform="translate(292.90 541.60) rotate(-90)" font-size="7.0" text-anchor="middle" fill="#111" stroke="#111" stroke-width="0.22">10</text>
<line x1="298.60" y1="571.70" x2="302.60" y2="571.70" stroke="#454545" stroke-width="0.95"/>
<text transform="translate(292.90 571.70) rotate(-90)" font-size="7.0" text-anchor="middle" fill="#111" stroke="#111" stroke-width="0.22">0</text>
<line x1="298.60" y1="601.80" x2="302.60" y2="601.80" stroke="#454545" stroke-width="0.95"/>
<text transform="translate(292.90 601.80) rotate(-90)" font-size="7.0" text-anchor="middle" fill="#111" stroke="#111" stroke-width="0.22">−10</text>
<line x1="298.60" y1="631.90" x2="302.60" y2="631.90" stroke="#454545" stroke-width="0.95"/>
<text transform="translate(292.90 631.90) rotate(-90)" font-size="7.0" text-anchor="middle" fill="#111" stroke="#111" stroke-width="0.22">−20</text>
<line x1="298.60" y1="662.00" x2="302.60" y2="662.00" stroke="#454545" stroke-width="0.95"/>
<text transform="translate(292.90 662.00) rotate(-90)" font-size="7.0" text-anchor="middle" fill="#111" stroke="#111" stroke-width="0.22">−30</text>
<text transform="translate(276.70 571.70) rotate(-90)" font-size="7.0" text-anchor="middle" fill="#111" stroke="#111" stroke-width="0.22">rediduals</text>
<line x1="307.30" y1="669.40" x2="427.50" y2="669.40" stroke="#454545" stroke-width="0.95"/>
<line x1="307.30" y1="669.40" x2="307.30" y2="673.00" stroke="#454545" stroke-width="0.95"/>
<text x="307.30" y="684.20" font-size="7.0" text-anchor="middle" fill="#111" stroke="#111" stroke-width="0.22">−20</text>
<line x1="337.35" y1="669.40" x2="337.35" y2="673.00" stroke="#454545" stroke-width="0.95"/>
<text x="337.35" y="684.20" font-size="7.0" text-anchor="middle" fill="#111" stroke="#111" stroke-width="0.22">−10</text>
<line x1="367.40" y1="669.40" x2="367.40" y2="673.00" stroke="#454545" stroke-width="0.95"/>
<text x="367.40" y="684.20" font-size="7.0" text-anchor="middle" fill="#111" stroke="#111" stroke-width="0.22">0</text>
<line x1="397.45" y1="669.40" x2="397.45" y2="673.00" stroke="#454545" stroke-width="0.95"/>
<text x="397.45" y="684.20" font-size="7.0" text-anchor="middle" fill="#111" stroke="#111" stroke-width="0.22">10</text>
<line x1="427.50" y1="669.40" x2="427.50" y2="673.00" stroke="#454545" stroke-width="0.95"/>
<text x="427.50" y="684.20" font-size="7.0" text-anchor="middle" fill="#111" stroke="#111" stroke-width="0.22">20</text>
<text x="367.40" y="700.30" font-size="7.0" text-anchor="middle" fill="#111" stroke="#111" stroke-width="0.22">fitted values</text>
<circle cx="349.50" cy="508.00" r="1.85" fill="#000"/>
<circle cx="381.50" cy="540.25" r="1.85" fill="#000"/>
<circle cx="382.50" cy="541.60" r="1.85" fill="#000"/>
<circle cx="377.50" cy="552.50" r="1.85" fill="#000"/>
<circle cx="381.25" cy="551.50" r="1.85" fill="#000"/>
<circle cx="383.75" cy="556.60" r="1.85" fill="#000"/>
<circle cx="398.10" cy="557.10" r="1.85" fill="#000"/>
<circle cx="393.75" cy="566.00" r="1.85" fill="#000"/>
<circle cx="398.75" cy="580.25" r="1.85" fill="#000"/>
<circle cx="375.25" cy="562.25" r="1.85" fill="#000"/>
<circle cx="377.75" cy="565.00" r="1.85" fill="#000"/>
<circle cx="382.25" cy="566.25" r="1.85" fill="#000"/>
<circle cx="368.50" cy="565.00" r="1.85" fill="#000"/>
<circle cx="360.60" cy="564.40" r="1.85" fill="#000"/>
<circle cx="373.10" cy="566.90" r="1.85" fill="#000"/>
<circle cx="381.25" cy="568.10" r="1.85" fill="#000"/>
<circle cx="384.40" cy="571.25" r="1.85" fill="#000"/>
<circle cx="384.75" cy="573.10" r="1.85" fill="#000"/>
<circle cx="379.40" cy="570.60" r="1.85" fill="#000"/>
<circle cx="377.50" cy="572.50" r="1.85" fill="#000"/>
<circle cx="375.60" cy="570.00" r="1.85" fill="#000"/>
<circle cx="376.25" cy="574.60" r="1.85" fill="#000"/>
<circle cx="375.00" cy="579.40" r="1.85" fill="#000"/>
<circle cx="371.90" cy="576.25" r="1.85" fill="#000"/>
<circle cx="370.60" cy="573.10" r="1.85" fill="#000"/>
<circle cx="368.50" cy="570.60" r="1.85" fill="#000"/>
<circle cx="367.50" cy="567.50" r="1.85" fill="#000"/>
<circle cx="365.60" cy="572.50" r="1.85" fill="#000"/>
<circle cx="364.40" cy="575.00" r="1.85" fill="#000"/>
<circle cx="361.90" cy="578.75" r="1.85" fill="#000"/>
<circle cx="362.50" cy="570.00" r="1.85" fill="#000"/>
<circle cx="360.60" cy="573.10" r="1.85" fill="#000"/>
<circle cx="359.40" cy="576.25" r="1.85" fill="#000"/>
<circle cx="358.10" cy="568.75" r="1.85" fill="#000"/>
<circle cx="356.90" cy="571.90" r="1.85" fill="#000"/>
<circle cx="355.00" cy="570.00" r="1.85" fill="#000"/>
<circle cx="353.75" cy="568.10" r="1.85" fill="#000"/>
<circle cx="353.10" cy="572.50" r="1.85" fill="#000"/>
<circle cx="350.60" cy="570.60" r="1.85" fill="#000"/>
<circle cx="348.75" cy="573.10" r="1.85" fill="#000"/>
<circle cx="348.10" cy="576.00" r="1.85" fill="#000"/>
<circle cx="346.90" cy="568.10" r="1.85" fill="#000"/>
<circle cx="345.60" cy="578.10" r="1.85" fill="#000"/>
<circle cx="344.40" cy="573.10" r="1.85" fill="#000"/>
<circle cx="342.50" cy="570.60" r="1.85" fill="#000"/>
<circle cx="361.25" cy="567.50" r="1.85" fill="#000"/>
<circle cx="363.10" cy="573.10" r="1.85" fill="#000"/>
<circle cx="353.00" cy="571.50" r="1.85" fill="#000"/>
<circle cx="355.00" cy="573.50" r="1.85" fill="#000"/>
<circle cx="356.50" cy="570.50" r="1.85" fill="#000"/>
<circle cx="358.00" cy="573.50" r="1.85" fill="#000"/>
<circle cx="358.50" cy="575.00" r="1.85" fill="#000"/>
<circle cx="363.50" cy="572.50" r="1.85" fill="#000"/>
<circle cx="364.50" cy="576.50" r="1.85" fill="#000"/>
<circle cx="366.00" cy="571.00" r="1.85" fill="#000"/>
<circle cx="367.00" cy="573.00" r="1.85" fill="#000"/>
<circle cx="360.50" cy="570.00" r="1.85" fill="#000"/>
<circle cx="362.00" cy="572.00" r="1.85" fill="#000"/>
<circle cx="405.40" cy="564.30" r="1.85" fill="#000"/>
<circle cx="405.40" cy="574.60" r="1.85" fill="#000"/>
<circle cx="405.40" cy="582.60" r="1.85" fill="#000"/>
<circle cx="405.40" cy="586.50" r="1.85" fill="#000"/>
<circle cx="405.40" cy="614.20" r="1.85" fill="#000"/>
<circle cx="405.40" cy="619.30" r="1.85" fill="#000"/>
<circle cx="405.40" cy="664.10" r="1.85" fill="#000"/>
<text x="356.00" y="505.50" font-size="7.9" text-anchor="start" fill="#111" stroke="#111" stroke-width="0.22">20a</text>
<text x="416.60" y="533.40" font-size="7.9" text-anchor="start" fill="#111" stroke="#111" stroke-width="0.22">220</text>
<text x="416.60" y="543.10" font-size="7.9" text-anchor="start" fill="#111" stroke="#111" stroke-width="0.22">338</text>
<text x="424.30" y="587.40" font-size="7.9" text-anchor="start" fill="#111" stroke="#111" stroke-width="0.22">142</text>
<text x="424.30" y="611.50" font-size="7.9" text-anchor="start" fill="#111" stroke="#111" stroke-width="0.22">152</text>
<text x="424.30" y="624.70" font-size="7.9" text-anchor="start" fill="#111" stroke="#111" stroke-width="0.22">181b</text>
<text x="424.30" y="666.00" font-size="7.9" text-anchor="start" fill="#111" stroke="#111" stroke-width="0.22">10a</text>
<text x="1.70" y="16.80" font-size="19.6" text-anchor="start" font-weight="bold" fill="#000">A</text>
<text x="191.00" y="16.30" font-size="19.6" text-anchor="start" font-weight="bold" fill="#000">B</text>
<text x="378.90" y="15.70" font-size="19.6" text-anchor="start" font-weight="bold" fill="#000">C</text>
<text x="-0.30" y="251.40" font-size="19.6" text-anchor="start" font-weight="bold" fill="#000">D</text>
<text x="190.20" y="250.80" font-size="19.6" text-anchor="start" font-weight="bold" fill="#000">E</text>
<text x="380.40" y="250.80" font-size="19.6" text-anchor="start" font-weight="bold" fill="#000">F</text>
<text x="62.20" y="478.30" font-size="19.6" text-anchor="start" font-weight="bold" fill="#000">G</text>
<text x="264.50" y="481.80" font-size="19.6" text-anchor="start" font-weight="bold" fill="#000">H</text>
</svg>
</body>
</html>
